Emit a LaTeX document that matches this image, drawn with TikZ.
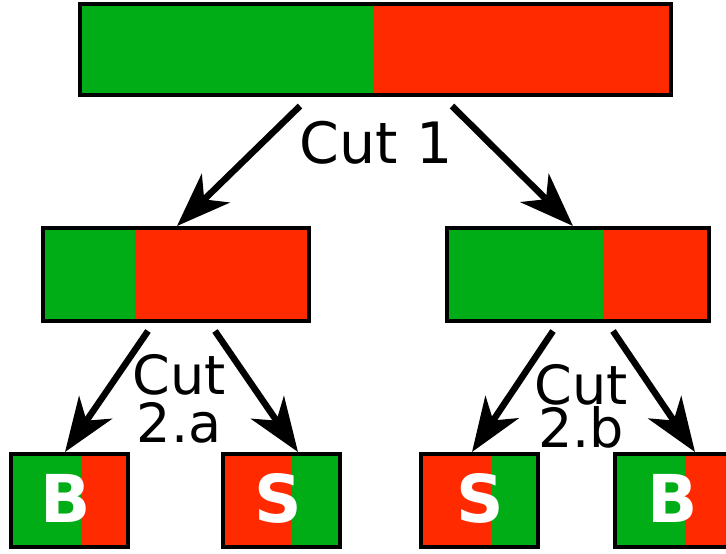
\documentclass[tikz,border=0pt]{standalone}
\usepackage{fontspec}
\setmainfont{DejaVu Sans}
\usetikzlibrary{arrows.meta,fit,calc}
\definecolor{cutgreen}{HTML}{00AD17}
\definecolor{cutred}{HTML}{FF2A00}
\tikzset{
  boxframe/.style={draw=black, line width=4pt, inner sep=0pt, rectangle},
  cutarrow/.style={line width=6.5pt, -{Stealth[length=54pt, width=40pt, inset=16pt]}},
  cutlabel/.style={font=\fontsize{57}{60}\selectfont, inner sep=0pt, anchor=base},
  sublabel/.style={inner sep=0pt, anchor=north, align=center},
  letter/.style={font=\fontsize{66}{70}\selectfont\bfseries, text=white, inner sep=0pt, anchor=base}
}
% name, x1, y1, x2, y2, split, left colour, right colour
\newcommand\splitbox[8]{%
  \fill[#7] (#2,#3) rectangle (#6,#5);
  \fill[#8] (#6,#3) rectangle (#4,#5);
  \node[boxframe, fit={(#2,#3) (#4,#5)}] (#1) {};
}
\begin{document}
\begin{tikzpicture}[x=1pt, y=-1pt]
\useasboundingbox (0,0) rectangle (726,554);
\clip (0,0) rectangle (726,554);
% boxes
\splitbox{top}{80}{4}{671}{95}{373}{cutgreen}{cutred}
\splitbox{ml}{43}{228}{309}{321}{135}{cutgreen}{cutred}
\splitbox{mr}{447}{228}{709}{321}{603}{cutgreen}{cutred}
\splitbox{ba}{11}{454}{128}{547}{81}{cutgreen}{cutred}
\splitbox{bb}{223}{454}{340}{547}{292}{cutred}{cutgreen}
\splitbox{bc}{421}{454}{538}{547}{491}{cutred}{cutgreen}
\splitbox{bd}{615}{454}{732}{547}{685}{cutgreen}{cutred}
% letters
\node[letter] (la) at (66,522) {B};
\node[letter] (lb) at (278,522) {S};
\node[letter] (lc) at (480,522) {S};
\node[letter] (ld) at (673,522) {B};
% labels
\node[cutlabel] (c1) at (376,163) {Cut 1};
\node[sublabel, font=\fontsize{54}{48}\selectfont] (c2a) at (179,354) {Cut\\2.a};
\node[sublabel, font=\fontsize{54}{43}\selectfont] (c2b) at (581,364) {Cut\\2.b};
% arrows
\draw[cutarrow] ([xshift=222pt, yshift=-9pt]top.south west) -- ([xshift=136pt]ml.north west);
\draw[cutarrow] ([xshift=374pt, yshift=-9pt]top.south west) -- ([xshift=128pt]mr.north west);
\draw[cutarrow] ([xshift=107pt, yshift=-8pt]ml.south west) -- ([xshift=56pt]ba.north west);
\draw[cutarrow] ([xshift=174pt, yshift=-8pt]ml.south west) -- ([xshift=77pt]bb.north west);
\draw[cutarrow] ([xshift=108pt, yshift=-8pt]mr.south west) -- ([xshift=53pt]bc.north west);
\draw[cutarrow] ([xshift=168pt, yshift=-8pt]mr.south west) -- ([xshift=82pt]bd.north west);
\end{tikzpicture}
\end{document}
